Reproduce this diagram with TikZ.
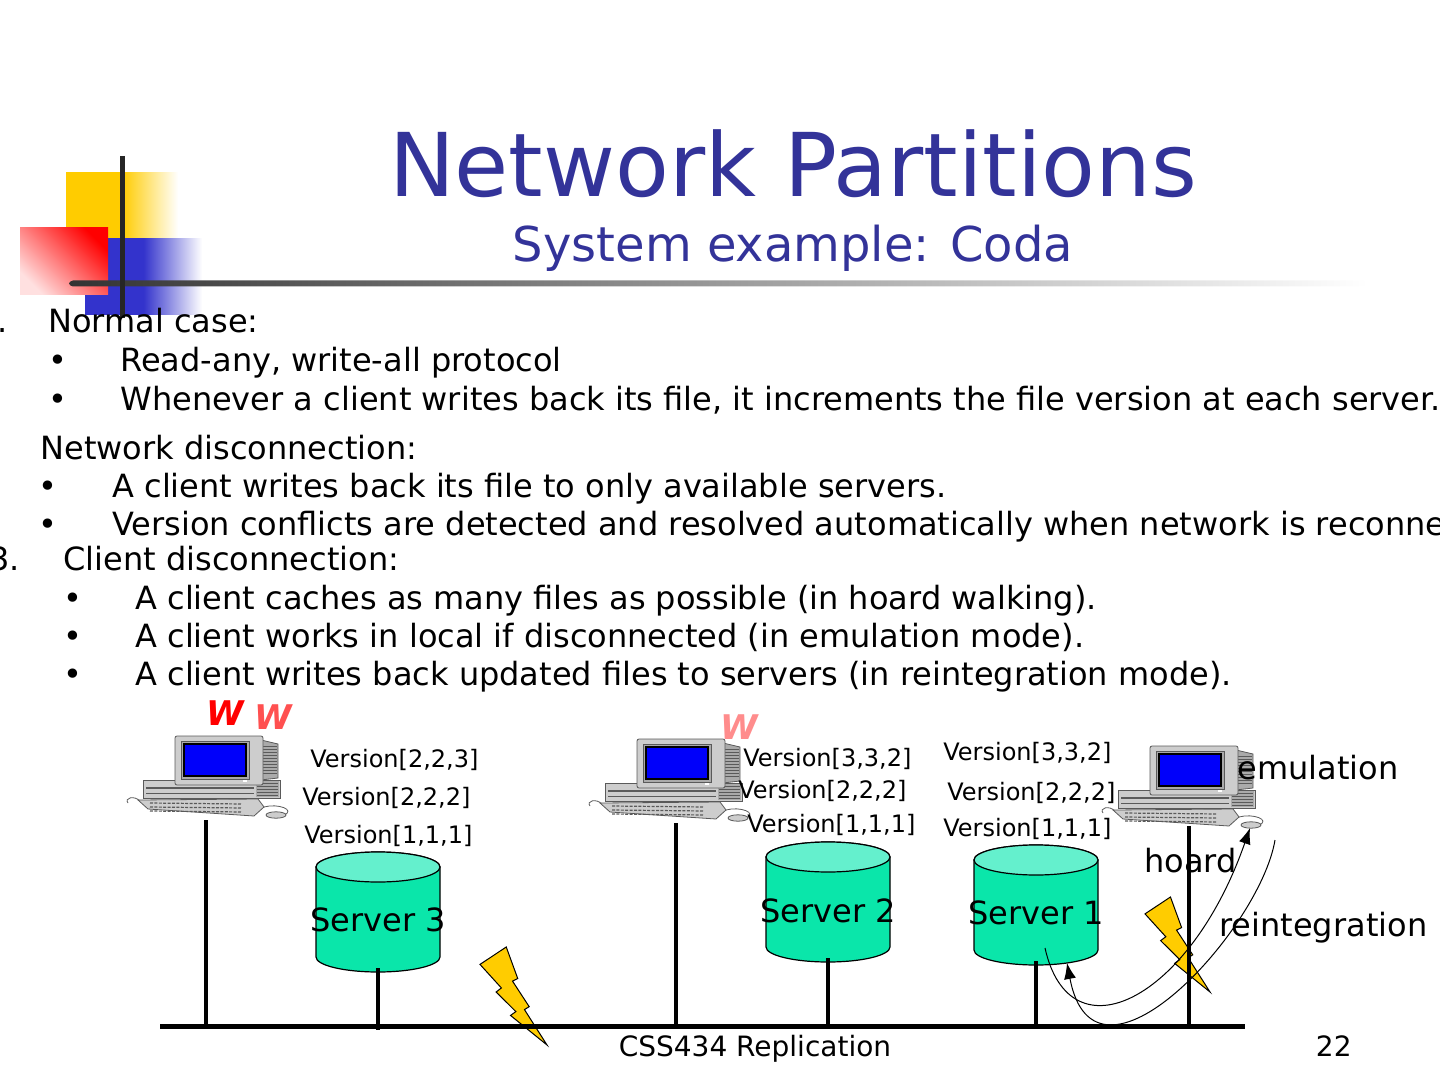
\documentclass[tikz,border=0pt]{standalone}
\usepackage{fontspec}
\setmainfont{DejaVu Sans}
\usetikzlibrary{arrows.meta}
\definecolor{titleblue}{RGB}{51,51,153}
\definecolor{logoyellow}{RGB}{255,204,0}
\definecolor{logored}{RGB}{255,0,0}
\definecolor{logoblue}{RGB}{51,51,204}
\definecolor{srvbody}{RGB}{10,230,170}
\definecolor{srvtop}{RGB}{100,240,205}
\definecolor{boltyellow}{RGB}{255,204,0}
\definecolor{screenblue}{RGB}{0,0,250}
\definecolor{wred}{RGB}{255,0,0}
\definecolor{wredlight}{RGB}{255,80,80}
\definecolor{wpink}{RGB}{255,140,140}
\definecolor{pclight}{RGB}{205,205,205}
\definecolor{pcmid}{RGB}{170,170,170}
\definecolor{pcdark}{RGB}{90,90,90}
\pgfdeclarehorizontalshading{yfade}{100bp}{color(0bp)=(logoyellow); color(50bp)=(logoyellow); color(75bp)=(white); color(100bp)=(white)}
\pgfdeclarehorizontalshading{bfade}{100bp}{color(0bp)=(logoblue); color(50bp)=(logoblue); color(75bp)=(white); color(100bp)=(white)}
\tikzset{
  pics/computer/.style={code={
      % cables
      \draw[pcdark,line width=0.4pt] (-66,-19) .. controls (-72,-25) and (-82,-22) .. (-78,-17);
      \draw[pcdark,line width=0.4pt] (58,-13) .. controls (72,-17) and (90,-10) .. (78,-5);
      % base unit
      \draw[pcdark,line width=0.4pt,fill=pclight] (-63,-40) rectangle (74,-22);
      \fill[pcmid] (50,-39) rectangle (73,-23);
      \foreach \v in {-37,-34,...,-25} \draw[pcdark,line width=0.3pt] (51,\v) -- (72,\v);
      \draw[pcdark,line width=0.6pt] (-60,-32) -- (48,-32);
      \draw[pcdark,line width=0.3pt] (-60,-27) -- (48,-27);
      % keyboard
      \draw[pcdark,line width=0.4pt,fill=pclight] (-68,-20) -- (52,-21) -- (58,-13) -- (48,-4) -- (-58,-11) -- cycle;
      \foreach \v in {-17,-13,-9} \draw[pcdark,dash pattern=on 1.5pt off 0.7pt,line width=0.6pt] (-56,\v) -- (36,\v+1);
      % mouse
      \draw[pcdark,line width=0.4pt,fill=pclight] (70,-5) ellipse [x radius=5pt,y radius=1.6pt];
      % monitor housing
      \draw[pcdark,line width=0.4pt,fill=pcmid] (55,-80) -- (72,-76) -- (72,-42) -- (55,-40) -- cycle;
      \foreach \v in {-74,-71,...,-45} \draw[pcdark,line width=0.3pt] (57,\v) -- (71,\v);
      % monitor front
      \draw[pcdark,line width=0.4pt,fill=pclight,rounded corners=1pt] (-31,-84) rectangle (57,-35);
      \draw[pcdark,line width=0.4pt,fill=pcmid] (-25,-79) rectangle (43,-41);
      \draw[black,line width=0.8pt,fill=screenblue] (-22,-76) rectangle (40,-44);
      \fill[white] (37,-40) rectangle (41,-38);
    }},
  pics/server/.style={code={
      \filldraw[fill=srvbody,draw=black,line width=0.6pt] (-62,-45) -- (-62,45)
        arc[start angle=180,end angle=360,x radius=31pt,y radius=7.5pt] -- (62,-45)
        arc[start angle=0,end angle=180,x radius=31pt,y radius=7.5pt] -- cycle;
      \filldraw[fill=srvtop,draw=black,line width=0.6pt] (0,-45) ellipse [x radius=31pt,y radius=7.5pt];
      \coordinate (-bot) at (0,56);
    }},
  pics/bolt/.style={code={
      \filldraw[fill=boltyellow,draw=black,line width=0.5pt,line join=miter]
        (39.16,0) -- (56.30,32.14) -- (48.52,34.81) -- (73.43,60.90) -- (66.34,63.85) -- (100,100)
        -- (45.55,69.84) -- (53.54,65.89) -- (24.01,45.91) -- (31.96,41.82) -- (0,17.75) -- cycle;
    }}
}
\begin{document}
\begin{tikzpicture}[x=0.5pt,y=-0.5pt,>={Latex[length=8pt,width=6pt]},
    txt/.style={anchor=base west,inner sep=0pt,font=\fontsize{16}{19}\selectfont},
    ver/.style={anchor=base west,inner sep=0pt,font=\fontsize{12}{14}\selectfont},
    wmark/.style={anchor=base west,inner sep=0pt,font=\fontsize{17}{20}\selectfont\bfseries\itshape},
    srvtxt/.style={inner sep=0pt,font=\fontsize{16}{19}\selectfont},
    drop/.style={line width=2pt},
    flow/.style={->,line width=0.5pt}]
  \useasboundingbox (0,0) rectangle (1440,1080);
  \clip (0,0) rectangle (1440,1080);
  % logo and title rules
  \shade[shading=yfade] (66,173) rectangle (178,262);
  \shade[shading=bfade] (85,239) rectangle (202,315);
  \shade[top color=logored,bottom color=logored!12,shading angle=-45] (20,228) rectangle (108,295);
  \shade[left color=black!80,right color=white,rounded corners=2pt] (69,280.5) rectangle (1368,286.5);
  \draw[line width=2.5pt,black!85] (122.5,156) -- (122.5,318);
  \node[anchor=base,inner sep=0pt,font=\fontsize{44}{53}\selectfont,text=titleblue] (ttl) at (793,197) {Network Partitions};
  \node[anchor=base,inner sep=0pt,font=\fontsize{24}{29}\selectfont,text=titleblue] (sub) at (793,262) {System example: Coda};
  % bullet text
  \node[txt] (n1) at (-23,333) {1.};
  \node[txt] (h1) at (48,333) {Normal case:};
  \node[txt] (b11) at (48,372) {•};
  \node[txt] (t11) at (120,372) {Read-any, write-all protocol};
  \node[txt] (b12) at (48,411) {•};
  \node[txt] (t12) at (120,411) {Whenever a client writes back its file, it increments the file version at each server.};
  \node[txt] (h2) at (40,459) {Network disconnection:};
  \node[txt] (b21) at (38,497) {•};
  \node[txt] (t21) at (112,497) {A client writes back its file to only available servers.};
  \node[txt] (b22) at (38,535) {•};
  \node[txt] (t22) at (112,535) {Version conflicts are detected and resolved automatically when network is reconne};
  \node[txt] (n3) at (-11,570) {3.};
  \node[txt] (h3) at (63,570) {Client disconnection:};
  \node[txt] (b31) at (63,609) {•};
  \node[txt] (t31) at (135,609) {A client caches as many files as possible (in hoard walking).};
  \node[txt] (b32) at (63,647) {•};
  \node[txt] (t32) at (135,647) {A client works in local if disconnected (in emulation mode).};
  \node[txt] (b33) at (63,685) {•};
  \node[txt] (t33) at (135,685) {A client writes back updated files to servers (in reintegration mode).};
  % lightning
  \pic[xscale=0.67,yscale=0.98] at (480,947) {bolt};
  \pic[xscale=0.65,yscale=0.95] at (1145,897) {bolt};
  % clients
  \pic at (206,820) {computer};
  \pic at (668,823) {computer};
  \pic at (1181,830) {computer};
  \coordinate (c1) at (206,820);
  \coordinate (c2) at (676,823);
  \coordinate (c3) at (1189,826);
  \node[wmark,text=wred] (w1) at (206,725) {W};
  \node[wmark,text=wredlight] (w2) at (254,729) {W};
  \node[wmark,text=wpink] (w3) at (720,739) {W};
  % servers
  \pic (s3) at (378,912) {server};
  \pic (s2) at (828,902) {server};
  \pic (s1) at (1036,905) {server};
  \node[srvtxt] (s3t) at (378,920) {Server 3};
  \node[srvtxt] (s2t) at (828,911) {Server 2};
  \node[srvtxt] (s1t) at (1036,913) {Server 1};
  % versions
  \node[ver] (v13) at (310,767) {Version[2,2,3]};
  \node[ver] (v12) at (302,805) {Version[2,2,2]};
  \node[ver] (v11) at (304,843) {Version[1,1,1]};
  \node[ver] (v23) at (743,766) {Version[3,3,2]};
  \node[ver] (v22) at (738,798) {Version[2,2,2]};
  \node[ver] (v21) at (747,832) {Version[1,1,1]};
  \node[ver] (v33) at (943,760) {Version[3,3,2]};
  \node[ver] (v32) at (947,800) {Version[2,2,2]};
  \node[ver] (v31) at (943,836) {Version[1,1,1]};
  % network
  \coordinate (busL) at (160,1026);
  \coordinate (busR) at (1245,1026);
  \draw[drop] (c1) -- (c1 |- busL);
  \draw[drop] (c2) -- (c2 |- busL);
  \draw[drop] (c3) -- (c3 |- busL);
  \draw[drop] (s3-bot) -- ([yshift=-2pt]s3-bot |- busL);
  \draw[drop] (s2-bot) -- (s2-bot |- busL);
  \draw[drop] (s1-bot) -- (s1-bot |- busL);
  \draw[line width=2.5pt] (busL) -- (busR);
  % modes
  \coordinate (hd0) at (1045,948);
  \coordinate (hd1) at (1250,828);
  \draw[flow] (hd0) .. controls (1070,1060) and (1190,1000) .. (hd1);
  \coordinate (ri0) at (1275,840);
  \coordinate (ri1) at (1067,963);
  \draw[flow] (ri0) .. controls (1260,930) and (1095,1110) .. (ri1);
  \node[txt] (emu) at (1237,779) {emulation};
  \node[txt] (hrd) at (1144,872) {hoard};
  \node[txt] (rei) at (1219,936) {reintegration};
  % footer
  \node[txt,font=\fontsize{14}{17}\selectfont,anchor=base] (foot) at (755,1056) {CSS434 Replication};
  \node[txt,font=\fontsize{14}{17}\selectfont,anchor=base east] (pgno) at (1352,1056) {22};
\end{tikzpicture}
\end{document}
